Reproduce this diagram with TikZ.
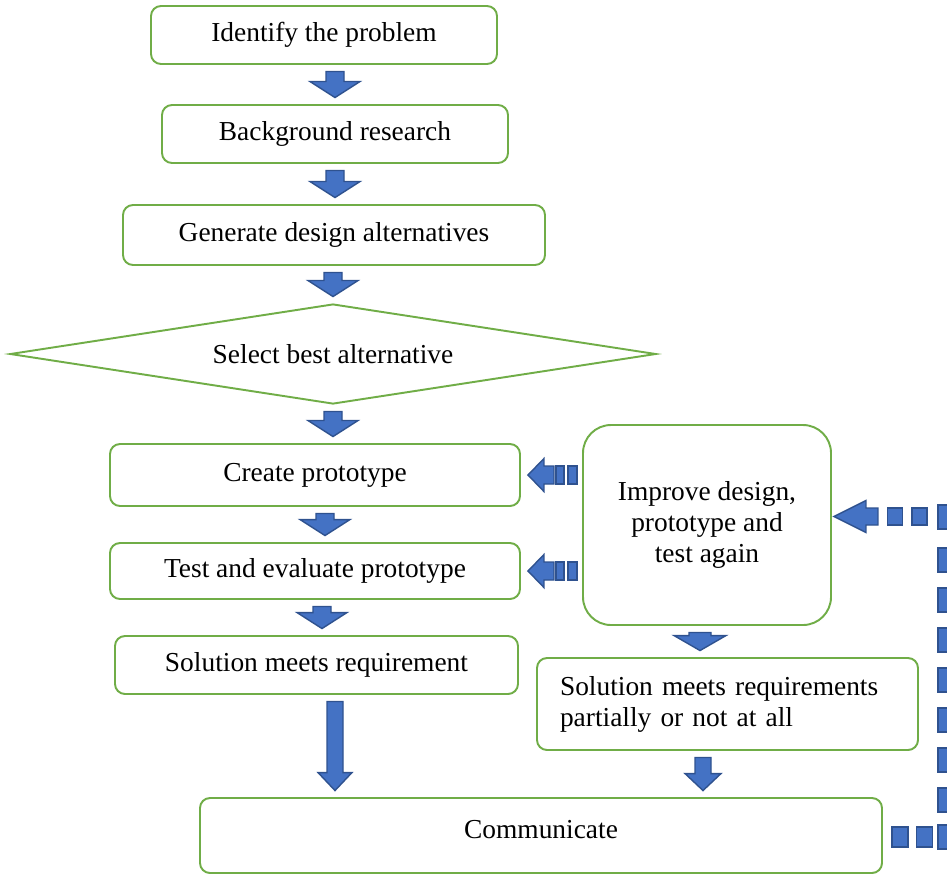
\documentclass[tikz,border=0pt]{standalone}
\usepackage{fontspec}
\setmainfont{Liberation Serif}
\usetikzlibrary{calc, shapes.geometric}

\definecolor{boxgreen}{HTML}{70AD47}
\definecolor{arrowblue}{HTML}{4472C4}
\definecolor{arrowedge}{HTML}{2F528F}

% block arrow pointing down: x, from, to, shaft half width, head half width, head length
\newcommand{\blkdown}[6]{%
  \draw[blkarrow] let \p1 = #2, \p2 = #3 in
    (#1-#4, \y1-0.13cm) -- (#1+#4, \y1-0.13cm) -- (#1+#4, \y2+0.13cm+#6)
    -- (#1+#5, \y2+0.13cm+#6) -- (#1, \y2+0.13cm) -- (#1-#5, \y2+0.13cm+#6)
    -- (#1-#4, \y2+0.13cm+#6) -- cycle;}

% block arrow pointing left: tip, head length, head half height, stub length, stub half height
\newcommand{\blkleft}[5]{%
  \draw[blkarrow] let \p1 = #1 in
    (\x1, \y1) -- ++(#2, #3) -- ++(0, #5-#3) -- ++(#4, 0) -- ++(0, -2*#5)
    -- ++(-#4, 0) -- ++(0, #5-#3) -- cycle;}

% the two stripes behind a left arrow
\newcommand{\stripes}[1]{%
  \draw[blkarrow] let \p1 = #1 in
    (\x1+0.56cm, \y1-0.18cm) rectangle (\x1+0.72cm, \y1+0.18cm)
    (\x1+0.80cm, \y1-0.18cm) rectangle (\x1+0.98cm, \y1+0.18cm);}

\begin{document}
\begin{tikzpicture}[
    stepbox/.style = {draw=boxgreen, line width=1.1pt, rounded corners=0.2cm,
      align=center, inner sep=0pt, font=\fontsize{15.6pt}{17.6pt}\selectfont},
    choice/.style = {diamond, aspect=6.4, draw=boxgreen, line width=1.1pt,
      inner sep=0pt, font=\fontsize{15.6pt}{17.6pt}\selectfont},
    blkarrow/.style = {fill=arrowblue, draw=arrowedge, line width=0.8pt}
  ]
  \useasboundingbox (0, 0) rectangle (18.94, -17.48);

  % steps
  \node[stepbox, minimum width=6.92cm, minimum height=1.16cm] (identify) at (6.48, -0.70) {Identify the problem};
  \node[stepbox, minimum width=6.92cm, minimum height=1.16cm] (research) at (6.70, -2.68) {Background research};
  \node[stepbox, minimum width=8.44cm, minimum height=1.20cm] (generate) at (6.68, -4.70) {Generate design alternatives};
  \node[choice, minimum width=12.92cm, minimum height=2.0cm] (select) at (6.66, -7.08) {Select best alternative};
  \node[stepbox, minimum width=8.20cm, minimum height=1.24cm] (prototype) at (6.30, -9.50) {Create prototype};
  \node[stepbox, minimum width=8.20cm, minimum height=1.12cm] (evaluate) at (6.30, -11.42) {Test and evaluate prototype};
  \node[stepbox, minimum width=8.06cm, minimum height=1.16cm] (meets) at (6.33, -13.30) {Solution meets requirement};
  \node[stepbox, rounded corners=0.56cm, minimum width=4.96cm, minimum height=4.0cm] (improve) at (14.14, -10.50) {Improve design,\\prototype and\\test again};
  \node[stepbox, align=left, text width=6.70cm, inner xsep=0.46cm, minimum height=1.84cm] (partial) at (14.55, -14.08) {Solution meets requirements\\partially or not at all};
  \node[stepbox, minimum width=13.64cm, minimum height=1.5cm, text height=0.36cm, text depth=0.26cm] (communicate) at (10.82, -16.71) {Communicate};

  % downward arrows
  \blkdown{6.70cm}{(identify.south)}{(research.north)}{0.18cm}{0.50cm}{0.32cm}
  \blkdown{6.70cm}{(research.south)}{(generate.north)}{0.18cm}{0.50cm}{0.32cm}
  \blkdown{6.66cm}{(generate.south)}{(select.north)}{0.18cm}{0.50cm}{0.32cm}
  \blkdown{6.66cm}{(select.south)}{(prototype.north)}{0.18cm}{0.50cm}{0.32cm}
  \blkdown{6.50cm}{(prototype.south)}{(evaluate.north)}{0.18cm}{0.50cm}{0.32cm}
  \blkdown{6.44cm}{(evaluate.south)}{(meets.north)}{0.18cm}{0.50cm}{0.32cm}
  \blkdown{6.70cm}{(meets.south)}{(communicate.north)}{0.16cm}{0.34cm}{0.36cm}
  \blkdown{14.00cm}{(improve.south)}{(partial.north)}{0.22cm}{0.52cm}{0.30cm}
  \blkdown{14.06cm}{(partial.south)}{(communicate.north)}{0.16cm}{0.36cm}{0.34cm}

  % striped arrows back from the improve box
  \blkleft{([xshift=0.14cm]prototype.east)}{0.32cm}{0.33cm}{0.20cm}{0.18cm}
  \stripes{([xshift=0.14cm]prototype.east)}
  \blkleft{([xshift=0.14cm]evaluate.east)}{0.32cm}{0.33cm}{0.20cm}{0.18cm}
  \stripes{([xshift=0.14cm]evaluate.east)}

  % dashed loop from communicate back to improve
  \coordinate (looptop) at (18.96, -10.33);
  \coordinate (loopbottom) at (18.96, -16.74);
  \blkleft{($(improve.east |- looptop)+(0.04, 0)$)}{0.64cm}{0.32cm}{0.24cm}{0.17cm}
  \foreach \xx in {17.90, 18.39} {
    \draw[blkarrow] (\xx-0.15, -10.16) rectangle (\xx+0.15, -10.50);
  }
  \foreach \yy in {10.34, 11.2, 12.0, 12.8, 13.6, 14.4, 15.2, 16.0, 16.74} {
    \draw[blkarrow] (18.76, -\yy+0.24) rectangle (19.16, -\yy-0.24);
  }
  \foreach \xx in {18.00, 18.49} {
    \draw[blkarrow] (\xx-0.16, -16.54) rectangle (\xx+0.16, -16.94);
  }
\end{tikzpicture}
\end{document}
